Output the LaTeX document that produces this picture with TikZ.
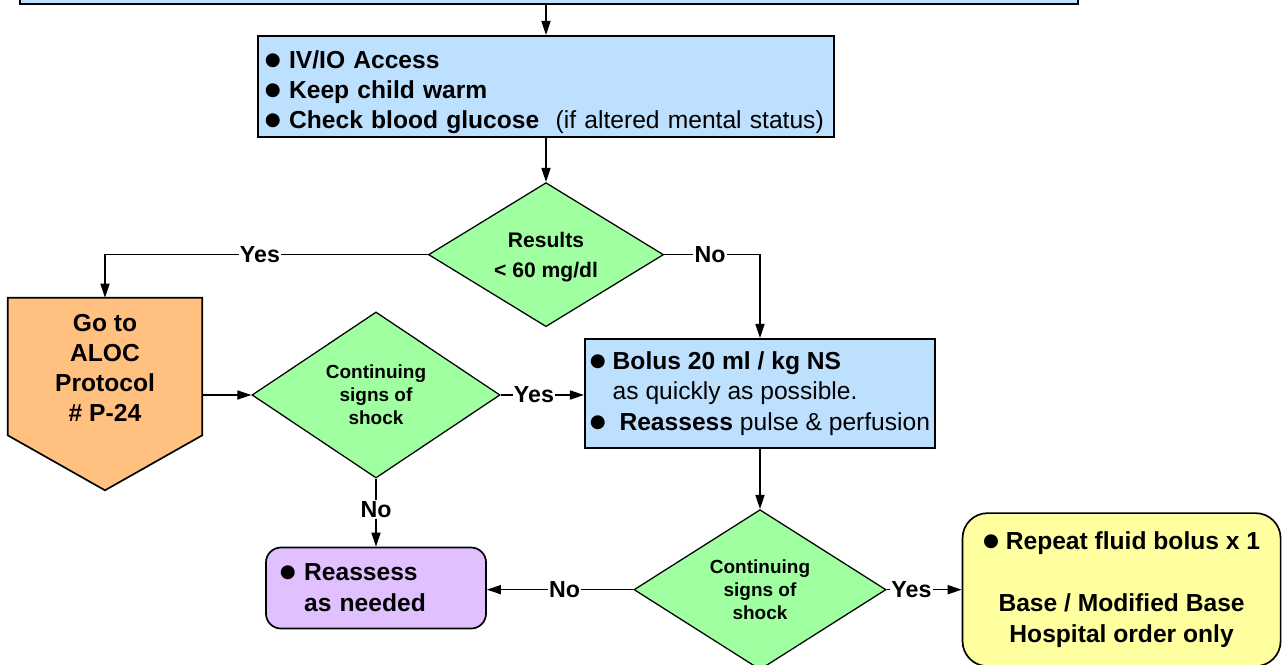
\documentclass[tikz,border=0pt]{standalone}
\usepackage{fontspec}
\setmainfont{Liberation Sans}
\newfontfamily\dotfont{DejaVu Sans}
\usetikzlibrary{
    arrows.meta,
    positioning,
    shapes.geometric
}

\definecolor{stepblue}{RGB}{190,224,255}
\definecolor{askgreen}{RGB}{160,255,160}
\definecolor{goorange}{RGB}{255,192,128}
\definecolor{lilac}{RGB}{224,192,255}
\definecolor{paleyellow}{RGB}{255,255,160}

\newcommand{\bul}{\raisebox{0.12em}{\dotfont\fontsize{13}{13}\selectfont ●}}

\begin{document}
\begin{tikzpicture}[x=0.025cm, y=-0.025cm,
    font=\fontsize{17.5}{21.5}\selectfont,
    infobox/.style={
        rectangle,
        draw=black,
        fill=stepblue,
        line width=1.4pt,
        align=left,
        inner xsep=0.175cm,
        inner ysep=0pt
    },
    decision/.style={
        diamond,
        draw=black,
        fill=askgreen,
        line width=0.9pt,
        align=center,
        inner sep=0pt,
        aspect=1.55,
        font=\fontsize{13.5}{16.4}\selectfont\bfseries
    },
    roundbox/.style={
        rectangle,
        rounded corners=0.375cm,
        draw=black,
        line width=1.2pt,
        inner sep=0pt
    },
    lbl/.style={fill=white, inner sep=1pt, font=\fontsize{16.5}{18}\selectfont\bfseries},
    arrow/.style={-{Triangle[length=10pt, width=6.5pt]}, line width=0.9pt}
]
\useasboundingbox (0,0) rectangle (1284,665);

% ===== ROW 1: access and glucose check =====
\node[infobox, minimum width=26.45cm, minimum height=1.7cm] (prior) at (549,-30) {};
\node[infobox, text width=14.05cm, minimum height=2.525cm] (access) at (546,86.5) {%
    \rule{0pt}{21pt}\bul\ \textbf{IV/IO Access}\\
    \bul\ \textbf{Keep child warm}\\
    \bul\ \textbf{Check blood glucose}\ \ (if altered mental status)};
\node[decision, minimum width=5.875cm, minimum height=3.6cm, aspect=1.63,
      font=\fontsize{15}{21.3}\selectfont\bfseries,
      below=1.1cm of access] (results) {\rule{0pt}{14pt}Results\\\textless\ 60 mg/dl};

\draw[arrow] (access.north |- prior.south) -- (access.north);
\draw[arrow] (access) -- (results);

% ===== ROW 2: ALOC branch and fluid bolus =====
\node[minimum width=4.85cm, minimum height=4.8cm, inner sep=0pt] (aloc) at (105,394) {};
\draw[fill=goorange, line width=1.2pt] (aloc.north west) -- (aloc.north east)
    -- ([yshift=1.375cm]aloc.south east) -- (aloc.south)
    -- ([yshift=1.375cm]aloc.south west) -- cycle;
\node[font=\fontsize{17.5}{21.3}\selectfont\bfseries, align=center] (alocText)
    at ([yshift=0.65cm]aloc.center) {Go to\\ALOC\\Protocol\\\# P-24};

\node[decision, minimum width=6.2cm, minimum height=4.15cm, aspect=1.5] (shock) at (376,395) {Continuing\\signs of\\shock};
\node[infobox, minimum width=8.75cm, inner xsep=0.05cm, minimum height=2.725cm] (bolus) at (760,393.5) {%
    \bul\ \textbf{Bolus 20 ml / kg NS}\\
    \phantom{\bul\ }as quickly as possible.\\
    \bul\ \ \textbf{Reassess} pulse \& perfusion};

\draw[arrow] (results.west) -| node[lbl, pos=0.26] {Yes} (aloc.north);
\draw[arrow] (results.east) -| node[lbl, pos=0.24] {No} (bolus.north);
\draw[arrow] (aloc.east |- shock.west) -- (shock.west);
\draw[arrow] (shock.east) -- node[lbl, pos=0.4] {Yes} (bolus.west |- shock.east);

% ===== ROW 3: reassess and repeat bolus =====
\node[roundbox, fill=lilac, text width=4.8cm, inner xsep=0.35cm, minimum height=2.025cm,
      align=left, font=\fontsize{17.5}{22}\selectfont\bfseries,
      below=1.7cm of shock] (reassess) {\bul\ Reassess\\\phantom{\bul\ }as needed};
\node[decision, minimum width=6.3cm, minimum height=4cm, aspect=1.6, below=1.5cm of bolus] (shockB) {Continuing\\signs of\\shock};
\node[roundbox, fill=paleyellow, rounded corners=0.625cm, minimum width=7.95cm, minimum height=3.825cm,
      align=center, font=\fontsize{17.5}{22}\selectfont\bfseries,
      right=1.875cm of shockB] (hospital) {\bul\ Repeat fluid bolus x 1\\[22pt]
      Base / Modified Base\\Hospital order only};

\draw[arrow] (shock.south) -- node[lbl, pos=0.46] {No} (reassess.north);
\draw[arrow] (bolus) -- (shockB);
\draw[arrow] (shockB.west) -- node[lbl, pos=0.47] {No} (reassess.east |- shockB.west);
\draw[arrow] (shockB.east) -- node[lbl, pos=0.33] {Yes} (hospital.west |- shockB.east);

\end{tikzpicture}
\end{document}
